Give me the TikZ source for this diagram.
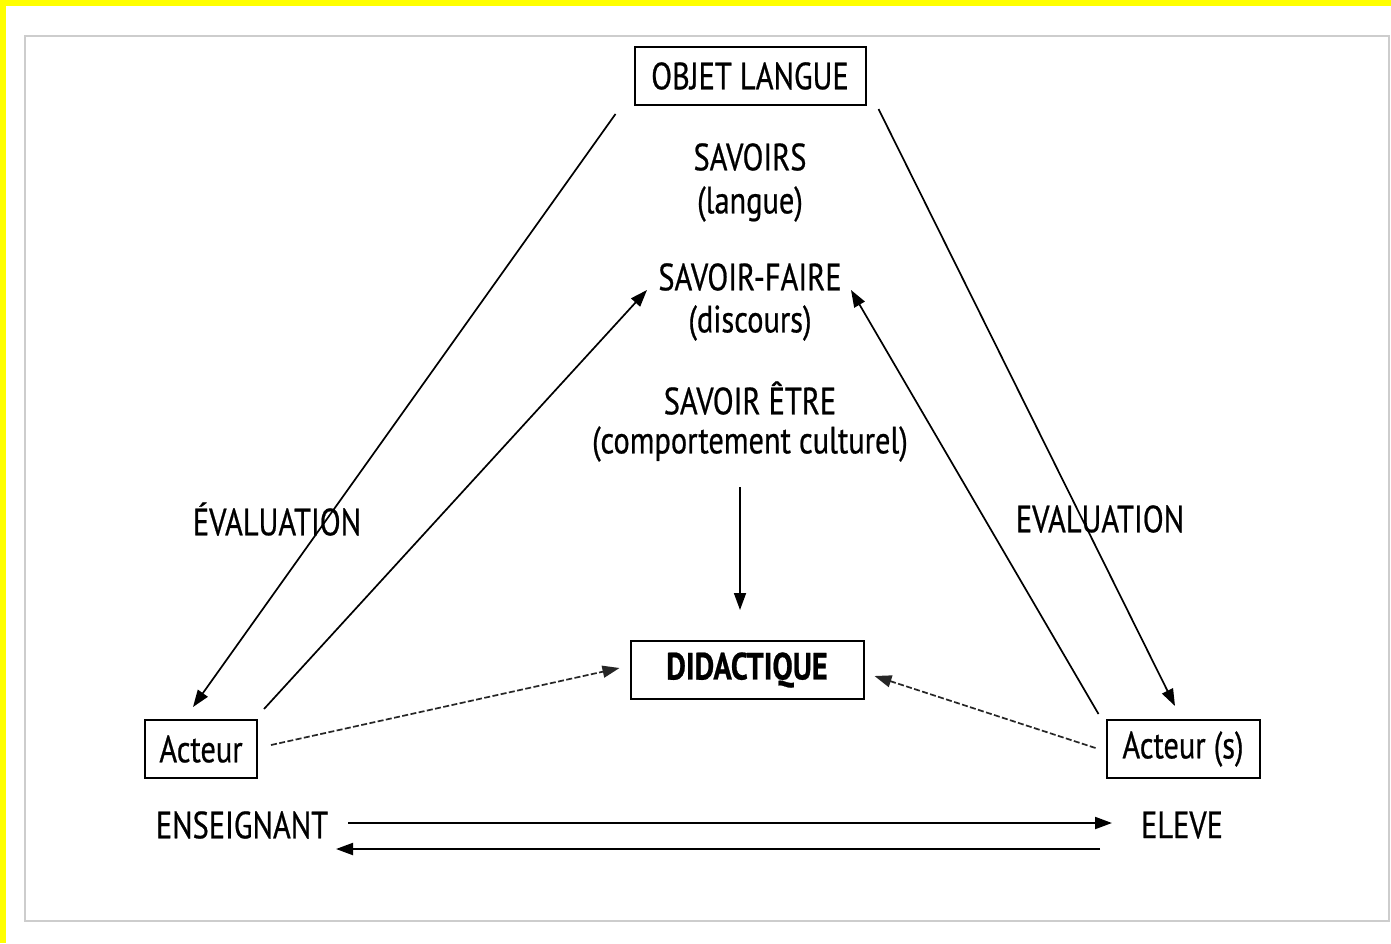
\documentclass[tikz,border=0pt]{standalone}
\usepackage{fontspec}
\setmainfont{PT Sans}[FakeStretch=0.80, FakeBold=0.6]
\usetikzlibrary{arrows.meta, positioning, calc}
\definecolor{framegray}{RGB}{205,205,205}
\definecolor{hiyellow}{RGB}{255,255,0}

\begin{document}
\begin{tikzpicture}[x=0.5pt, y=-0.5pt,
    txt/.style={font=\fontsize{19}{22}\selectfont, inner sep=0pt},
    boxed/.style={txt, draw, line width=1pt, minimum height=29pt},
    arr/.style={line width=0.85pt, -{Triangle[length=8.5pt,width=6pt]}},
    dasharr/.style={arr, black!85, dash pattern=on 3pt off 1.2pt}]

  % background and frame
  \fill[hiyellow] (0,0) rectangle (1391,943);
  \fill[white] (6,6) rectangle (1391,943);
  \useasboundingbox (0,0) rectangle (1391,943);
  \draw[framegray, line width=1.2pt] (25,36) rectangle (1389,921);

  % top of the triangle
  \node[boxed, minimum width=115.5pt] (obj) at (750,76) {OBJET LANGUE};
  \node[txt] (sav) at (750,157) {SAVOIRS};
  \node[txt] (langue) at (750,204) {(langue)};
  \node[txt] (faire) at (750,277) {SAVOIR-FAIRE};
  \node[txt] (disc) at (750,323) {(discours)};
  \node[txt] (etre) at (750,398) {SAVOIR ÊTRE};
  \node[txt] (culture) at (750,444) {(comportement culturel)};

  % centre and corners
  \node[boxed, minimum width=116.5pt, font=\fontsize{19}{22}\selectfont\bfseries] (did) at (747,670) {DIDACTIQUE};
  \node[boxed, minimum width=56pt] (acteur) at (201,749) {Acteur};
  \node[boxed, minimum width=76.5pt] (acteurs) at (1183,749) {Acteur (s)};
  \node[txt] (ens) at (242,825) {ENSEIGNANT};
  \node[txt] (eleve) at (1182,825) {ELEVE};
  \node[txt] (evalg) at (277,519) {ÉVALUATION};
  \node[txt] (evald) at (1100,519) {EVALUATION};

  % connectors
  \draw[arr] ($(obj.south west)+(-18,8)$) -- ($(acteur.north)+(-8,-12)$);
  \draw[arr] ($(acteur.north east)+(6,-10)$) -- ($(faire.west)+(-11,13)$);
  \draw[arr] ($(obj.south east)+(12,3)$) -- ($(acteurs.north)+(-8,-13)$);
  \draw[arr] ($(acteurs.north west)+(-7,-5)$) -- ($(faire.east)+(9,13)$);
  \draw[arr] ($(culture.south)+(-10,25)$) -- ($(did.north)+(-7,-30)$);
  \draw[dasharr] ($(acteur.east)+(13,-4)$) -- ($(did.west)+(-10,-2)$);
  \draw[dasharr] ($(acteurs.west)+(-10,-1)$) -- ($(did.east)+(10,6)$);
  \draw[arr, line width=1pt] (348,823) coordinate (ensout) -- (1112,823) coordinate (elevein);
  \draw[arr, line width=1pt] (1100,849) coordinate (eleveout) -- (336,849) coordinate (ensin);
\end{tikzpicture}
\end{document}
